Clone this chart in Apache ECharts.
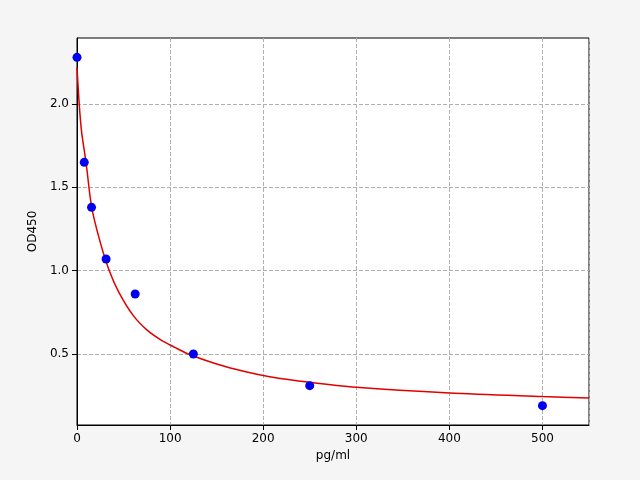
<!DOCTYPE html>
<html>
<head>
<meta charset="utf-8">
<script src="https://cdn.jsdelivr.net/npm/echarts@6/dist/echarts.min.js"></script>
<style>html,body{margin:0;background:#f5f5f5;}#chart{width:640px;height:480px;}</style>
</head>
<body>
<div id="chart"></div>
<script>
// measured standards
var concX = [0, 7.8, 15.6, 31.25, 62.5, 125, 250, 500];
var odY = [2.28, 1.65, 1.38, 1.07, 0.86, 0.50, 0.31, 0.19];
// fitted curve
var curveX = [0, 2.5, 5, 9.7, 15.8, 25, 34.7, 45, 60.5, 75, 90, 105, 119.5, 150, 180, 207, 250, 300, 400, 500, 550];
var curveY = [2.22, 1.99, 1.83, 1.65, 1.38, 1.17, 1.0, 0.87, 0.73, 0.645, 0.585, 0.54, 0.5, 0.44, 0.395, 0.364, 0.33, 0.30, 0.266, 0.245, 0.236];

var chart = echarts.init(document.getElementById('chart'));
var axisLine = {show: true, lineStyle: {color: '#000'}};
var split = {show: true, lineStyle: {color: '#b0b0b0', type: 'dashed'}};
chart.setOption({
    backgroundColor: '#f5f5f5',
    animation: false,
    grid: {left: 77, right: 51, top: 38, bottom: 55,
           show: true, backgroundColor: '#fff', borderColor: '#000', borderWidth: 1},
    xAxis: {
        type: 'value', min: 0, max: 550, interval: 100,
        name: 'pg/ml', nameLocation: 'middle', nameGap: 25,
        nameTextStyle: {color: '#000', fontSize: 12, fontFamily: 'DejaVu Sans'},
        axisLine: axisLine, axisTick: {show: true, lineStyle: {color: '#000'}},
        axisLabel: {color: '#000', fontSize: 12, fontFamily: 'DejaVu Sans', showMaxLabel: false},
        splitLine: split
    },
    yAxis: {
        type: 'value', min: 0.074, max: 2.396,
        name: 'OD450', nameLocation: 'middle', nameGap: 36,
        nameTextStyle: {color: '#000', fontSize: 12, fontFamily: 'DejaVu Sans'},
        axisLine: axisLine,
        axisLabel: {color: '#000', fontSize: 12, fontFamily: 'DejaVu Sans',
                    customValues: [0.5, 1.0, 1.5, 2.0],
                    formatter: function (v) { return v.toFixed(1); }},
        axisTick: {customValues: [0.5, 1.0, 1.5, 2.0], lineStyle: {color: '#000'}},
        splitLine: split
    },
    series: [
        {
            type: 'line', smooth: 0.3, showSymbol: false,
            data: curveX.map(function (x, i) { return [x, curveY[i]]; }),
            lineStyle: {color: '#e00000', width: 1.5}, z: 2
        },
        {
            type: 'scatter', symbolSize: 9,
            data: concX.map(function (x, i) { return [x, odY[i]]; }),
            itemStyle: {color: '#0000ee', opacity: 1}, z: 3, clip: false
        }
    ]
});
</script>
</body>
</html>
